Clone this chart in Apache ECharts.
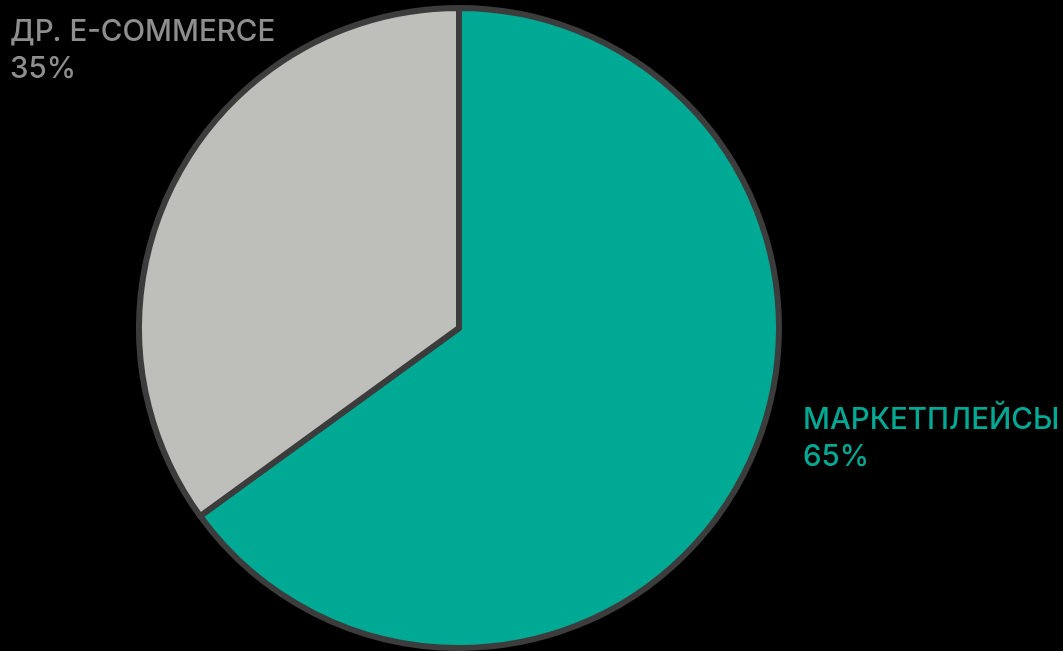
<!DOCTYPE html>
<html>
<head>
<meta charset="utf-8">
<script src="https://cdn.jsdelivr.net/npm/echarts@6/dist/echarts.min.js"></script>
<style>
html,body{margin:0;padding:0;background:#000;}
#c{width:1063px;height:651px;}
</style>
</head>
<body>
<div id="c"></div>
<script>
const categories = ['МАРКЕТПЛЕЙСЫ', 'ДР. E-COMMERCE'];
const values = [65, 35];
const sliceColors = ['#00a994', '#bebebb'];
const labelColors = ['#00a994', '#8e8e8e'];

const chart = echarts.init(document.getElementById('c'), null, {renderer: 'canvas'});
const labelPos = [
  {x: 803, y: 402},
  {x: 10, y: 14}
];
chart.setOption({
  backgroundColor: '#000',
  animation: false,
  series: [{
    type: 'pie',
    center: [459, 328],
    radius: [0, 320],
    startAngle: 90,
    clockwise: true,
    data: categories.map((c, i) => ({
      name: c,
      value: values[i],
      itemStyle: {color: sliceColors[i]},
      label: {color: labelColors[i]}
    })),
    itemStyle: {borderColor: '#3c3c3c', borderWidth: 6},
    label: {
      show: true,
      position: 'outside',
      formatter: p => p.name + '\n' + p.value + '%',
      fontFamily: 'Inter',
      fontWeight: 500,
      fontSize: 29.5,
      lineHeight: 37,
      align: 'left',
      overflow: 'none'
    },
    labelLine: {show: false},
    labelLayout: function (params) {
      const p = labelPos[params.dataIndex];
      return {x: p.x, y: p.y, align: 'left', verticalAlign: 'top'};
    },
    emphasis: {disabled: true}
  }]
});
</script>
</body>
</html>
